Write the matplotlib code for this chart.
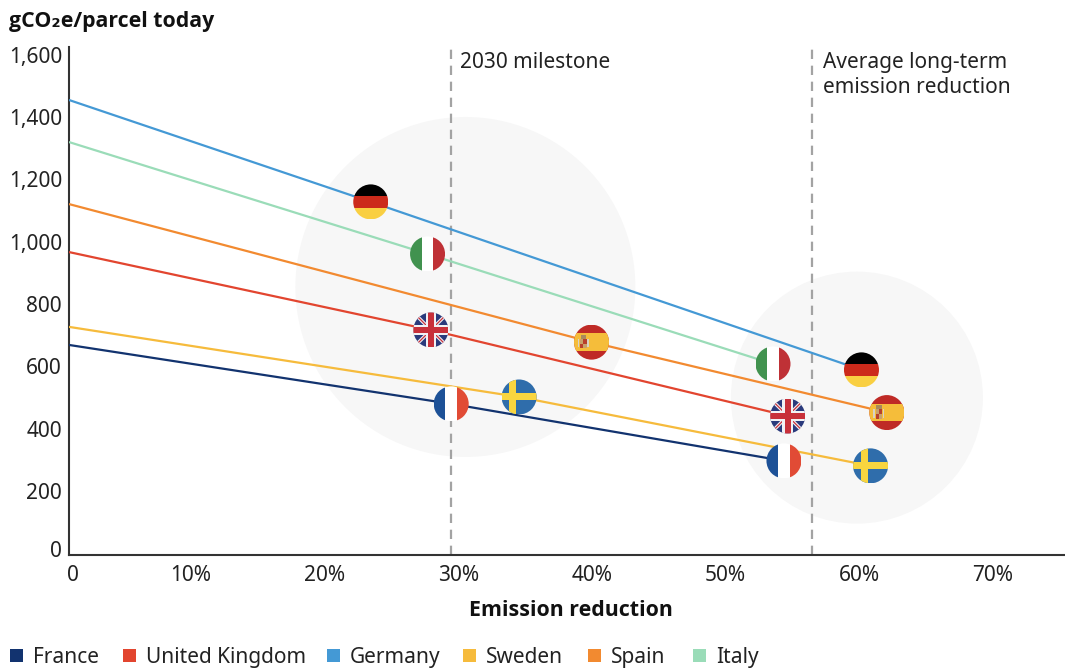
import matplotlib
matplotlib.use('Agg')
import matplotlib.pyplot as plt
import numpy as np
from matplotlib.patches import Circle, Rectangle, Polygon
from matplotlib.transforms import Affine2D, ScaledTranslation

plt.rcParams['font.family'] = ['Noto Sans', 'DejaVu Sans']
bold_family = ['Open Sans', 'DejaVu Sans']

W, H = 1065, 670

# x is emission reduction in %, y is gCO2e/parcel
countries = ['France', 'United Kingdom', 'Germany', 'Sweden', 'Spain', 'Italy']
colors = ['#12336f', '#e2452f', '#4499d5', '#f6bb3c', '#f28a30', '#9adcb8']
x_start = 0.87
y_start = [669, 967, 1455, 727, 1121, 1320]
x_flag_2030 = [29.47, 27.95, 23.45, 34.55, 39.97, 27.7]
y_flag_2030 = [480, 717, 1128, 502, 678, 961]
x_flag_long = [54.37, 54.65, 60.17, 60.85, 62.07, 53.55]
y_flag_long = [297, 441, 589, 281, 452, 608]

x_ticks = [1.17, 10, 20, 30, 40, 50, 60, 70]
x_labels = ['0', '10%', '20%', '30%', '40%', '50%', '60%', '70%']
y_ticks = [0, 200, 400, 600, 800, 1000, 1200, 1400, 1600]
y_labels = ['0', '200', '400', '600', '800', '1,000', '1,200', '1,400', '1,600']

milestones = [29.45, 56.45]
blobs = [(30.53, 855, 170), (59.83, 500, 126)]

legend_px = [10, 123, 327, 463, 588, 693]

fig = plt.figure(figsize=(W / 100, H / 100), dpi=100)
ax = fig.add_axes([69 / W, 1 - 555 / H, (W - 69) / W, (555 - 47) / H])
ax.set_xlim(x_start, 75.4)
ax.set_ylim(-5, 1625)


def unit(x, y, r):
    # maps the unit square onto a circle of r pixels around a data point
    px, py = ax.transData.transform((x, y))
    return Affine2D().scale(r).translate(px, py)


def draw_flag(name, x, y, r=17.5):
    t = unit(x, y, r)
    clip = Circle((0, 0), 1, transform=t)

    def rect(x0, y0, w, h, c, z=6):
        p = Rectangle((x0, y0), w, h, fc=c, ec='none', transform=t, zorder=z)
        p.set_clip_path(clip)
        ax.add_patch(p)

    def poly(pts, c, z=6):
        p = Polygon(pts, fc=c, ec='none', transform=t, zorder=z)
        p.set_clip_path(clip)
        ax.add_patch(p)

    if name == 'Germany':
        rect(-1, 1 / 3, 2, 2 / 3, '#000000')
        rect(-1, -1 / 3, 2, 2 / 3, '#cc2a1b')
        rect(-1, -1, 2, 2 / 3, '#f9cf42')
    elif name == 'Italy':
        rect(-1, -1, 2 / 3, 2, '#41924f')
        rect(-1 / 3, -1, 2 / 3, 2, '#ffffff')
        rect(1 / 3, -1, 2 / 3, 2, '#bf3136')
    elif name == 'France':
        rect(-1, -1, 2 / 3, 2, '#1d5197')
        rect(-1 / 3, -1, 2 / 3, 2, '#ffffff')
        rect(1 / 3, -1, 2 / 3, 2, '#e14b35')
    elif name == 'Sweden':
        rect(-1, -1, 2, 2, '#2f6dab')
        rect(-1, -0.2, 2, 0.4, '#f9d53f')
        rect(-0.55, -1, 0.4, 2, '#f9d53f')
    elif name == 'Spain':
        rect(-1, -1, 2, 2, '#bf2a26')
        rect(-1, -0.5, 2, 1, '#f5bd3a')
        # small coat of arms left of centre
        rect(-0.8, -0.3, 0.1, 0.5, '#d8d2c6', z=7)
        rect(-0.24, -0.3, 0.1, 0.5, '#d8d2c6', z=7)
        rect(-0.62, 0.18, 0.32, 0.24, '#a98a5c', z=7)
        rect(-0.64, -0.36, 0.18, 0.27, '#b8402c', z=7)
        rect(-0.46, -0.36, 0.18, 0.27, '#c8a16a', z=7)
        rect(-0.64, -0.09, 0.18, 0.27, '#c8a16a', z=7)
        rect(-0.46, -0.09, 0.18, 0.27, '#b8402c', z=7)
    elif name == 'United Kingdom':
        rect(-1, -1, 2, 2, '#2a3a7c')
        for s in (1, -1):
            poly([(-1, -1.14 * s), (-1, -0.86 * s), (1, 1.14 * s), (1, 0.86 * s)], '#f1f1f4', 7)
            poly([(-1, -1.05 * s), (-1, -0.95 * s), (1, 1.05 * s), (1, 0.95 * s)], '#c8303a', 8)
        rect(-1, -0.3, 2, 0.6, '#f1f1f4', z=9)
        rect(-0.3, -1, 0.6, 2, '#f1f1f4', z=9)
        rect(-1, -0.18, 2, 0.36, '#c8303a', z=10)
        rect(-0.18, -1, 0.36, 2, '#c8303a', z=10)


for bx, by, br in blobs:
    ax.add_patch(Circle((0, 0), 1, transform=unit(bx, by, br), fc='#f7f7f7', ec='none', zorder=1))

for m in milestones:
    ax.axvline(m, color='#a3a3a3', lw=1.6, dashes=(4.2, 3), zorder=2)

for i, name in enumerate(countries):
    xs = [x_start, x_flag_2030[i], x_flag_long[i]]
    ys = [y_start[i], y_flag_2030[i], y_flag_long[i]]
    ax.plot(xs, ys, color=colors[i], lw=1.6, zorder=3, solid_capstyle='butt')
    draw_flag(name, x_flag_2030[i], y_flag_2030[i])
    draw_flag(name, x_flag_long[i], y_flag_long[i])

for s in ['top', 'right']:
    ax.spines[s].set_visible(False)
for s in ['left', 'bottom']:
    ax.spines[s].set_color('#333333')
    ax.spines[s].set_linewidth(1.5)

ax.set_xticks(x_ticks, x_labels)
ax.set_yticks(y_ticks, y_labels)
ax.tick_params(axis='both', length=0, labelsize=15, labelcolor='#222222')
ax.tick_params(axis='x', pad=7)
ax.tick_params(axis='y', pad=5)
# the zero label sits a little above the axis line in the original
ylab0 = ax.get_yticklabels()[0]
ylab0.set_transform(ylab0.get_transform() + ScaledTranslation(0, 3 / 72, fig.dpi_scale_trans))

fig.text(9 / W, 1 - 22 / H, 'gCO\u2082e/parcel today', fontsize=15.3, fontweight='bold', family=bold_family, va='center', color='#111111')
fig.text(571 / W, 1 - 611 / H, 'Emission reduction', fontsize=15.4, fontweight='bold', family=bold_family, va='center', ha='center', color='#111111')
fig.text(460 / W, 1 - 62 / H, '2030 milestone', fontsize=15, va='center', color='#222222')
fig.text(823 / W, 1 - 75 / H, 'Average long-term\nemission reduction', fontsize=15, va='center', color='#222222', linespacing=1.2)

# legend row, spaced by hand because the gaps in the original are uneven
for lx, c, n in zip(legend_px, colors, countries):
    fig.add_artist(Rectangle((lx / W, 1 - 662 / H), 13 / W, 13 / H, fc=c, ec='none', transform=fig.transFigure))
    fig.text((lx + 23) / W, 1 - 663 / H, n, fontsize=15, va='baseline', color='#222222')

fig.savefig('out.png', dpi=100)
